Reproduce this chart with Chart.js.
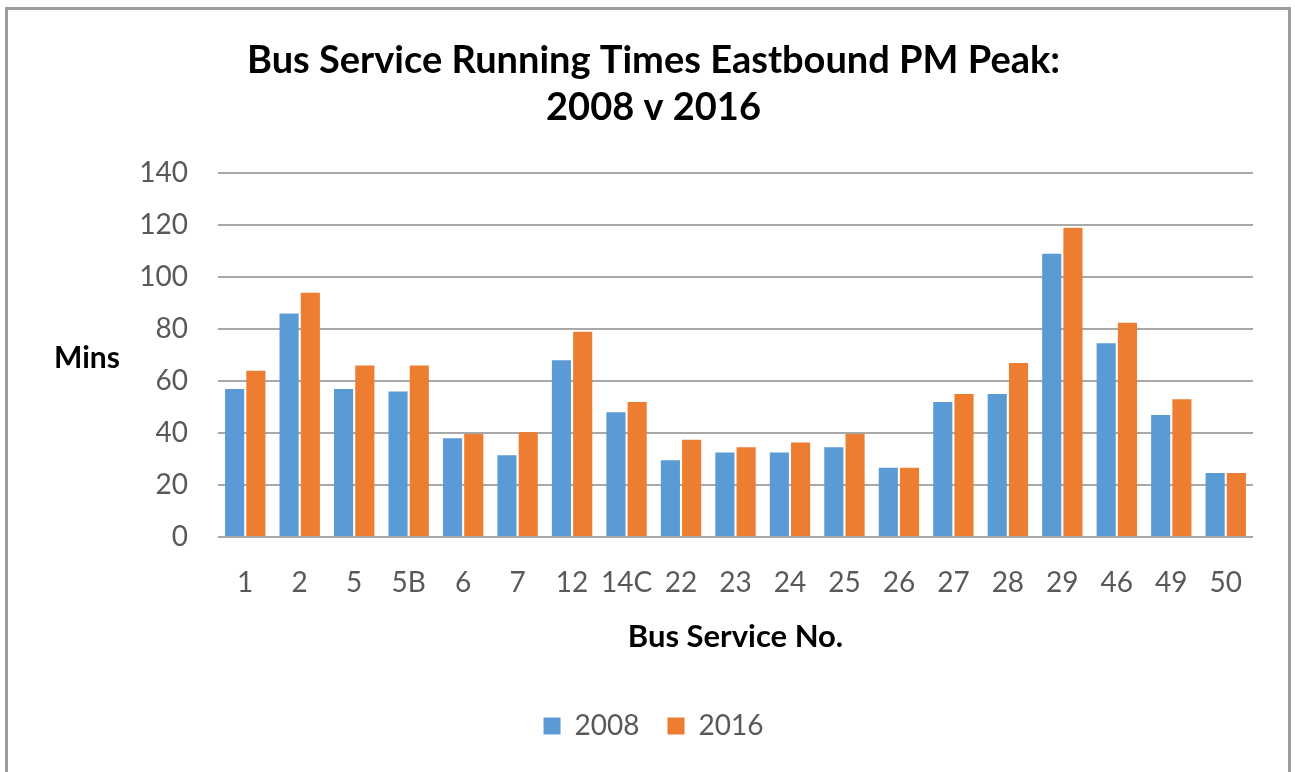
<!DOCTYPE html>
<html>
<head>
<meta charset="utf-8">
<script src="https://cdn.jsdelivr.net/npm/chart.js@4/dist/chart.umd.min.js"></script>
<style>
  html, body { margin: 0; padding: 0; background: #fff; width: 1295px; height: 772px; overflow: hidden; }
  #frame { position: absolute; left: 5px; top: 7px; width: 1280px; height: 800px; border: 3px solid #9c9c9c; box-sizing: content-box; }
  #c { position: absolute; left: 0; top: 0; }
</style>
</head>
<body>
<div id="frame"></div>
<canvas id="c" width="1295" height="772"></canvas>
<script>
const categories = ['1','2','5','5B','6','7','12','14C','22','23','24','25','26','27','28','29','46','49','50'];
const values2008 = [57, 86, 57, 56, 38, 31.5, 68, 48, 29.5, 32.5, 32.5, 34.5, 26.7, 52, 55, 109, 74.6, 47, 24.6];
const values2016 = [64, 94, 66, 66, 39.6, 40.3, 79, 52, 37.4, 34.5, 36.4, 39.6, 26.7, 55, 67, 119, 82.5, 53, 24.6];
const seriesNames = ['2008', '2016'];
const yTicks = [0, 20, 40, 60, 80, 100, 120, 140];
const titleLines = ['Bus Service Running Times Eastbound PM Peak:', '2008 v 2016'];
const yAxisTitle = 'Mins';
const xAxisTitle = 'Bus Service No.';

const FONT = 'Lato';

const minsPlugin = {
  id: 'minsLabel',
  afterDraw(chart) {
    const ctx = chart.ctx;
    ctx.save();
    ctx.font = 'bold 30px ' + FONT;
    ctx.fillStyle = '#000';
    ctx.textAlign = 'center';
    ctx.textBaseline = 'middle';
    ctx.fillText(yAxisTitle, 87, 358);
    ctx.restore();
  }
};

new Chart(document.getElementById('c'), {
  type: 'bar',
  data: {
    labels: categories,
    datasets: [
      { label: seriesNames[0], data: values2008, backgroundColor: '#5B9BD5', borderWidth: 0 },
      { label: seriesNames[1], data: values2016, backgroundColor: '#ED7D31', borderWidth: 0 }
    ]
  },
  options: {
    responsive: false,
    animation: false,
    devicePixelRatio: 1,
    datasets: { bar: { categoryPercentage: 0.78, barPercentage: 0.9 } },
    layout: { padding: { left: 54, right: 42, top: 0, bottom: 22 } },
    plugins: {
      title: {
        display: true,
        text: titleLines,
        color: '#000',
        font: { family: FONT, size: 38, weight: 'bold', lineHeight: 1.24 },
        padding: { top: 37.5, bottom: 41.5 }
      },
      legend: {
        display: true,
        position: 'bottom',
        labels: {
          color: '#595959',
          font: { family: FONT, size: 28 },
          boxWidth: 17,
          boxHeight: 17,
          padding: 28
        }
      },
      tooltip: { enabled: false }
    },
    scales: {
      x: {
        grid: { display: false, drawTicks: false },
        border: { display: false },
        ticks: { color: '#595959', font: { family: FONT, size: 28 }, padding: 29, maxRotation: 0, autoSkip: false },
        title: {
          display: true,
          text: xAxisTitle,
          color: '#000',
          font: { family: FONT, size: 31, weight: 'bold', lineHeight: 1.2 },
          padding: { top: 0, bottom: 28.4 }
        },
        afterFit(axis) { axis.height = 147; }
      },
      y: {
        min: 0,
        max: 140,
        afterBuildTicks(axis) { axis.ticks = yTicks.map(v => ({ value: v })); },
        grid: { color: '#a8a8a8', lineWidth: 2, drawTicks: false },
        border: { display: false },
        ticks: { color: '#595959', font: { family: FONT, size: 28 }, padding: 30 },
        afterFit(axis) { axis.width = 164; }
      }
    }
  },
  plugins: [minsPlugin]
});
</script>
</body>
</html>
